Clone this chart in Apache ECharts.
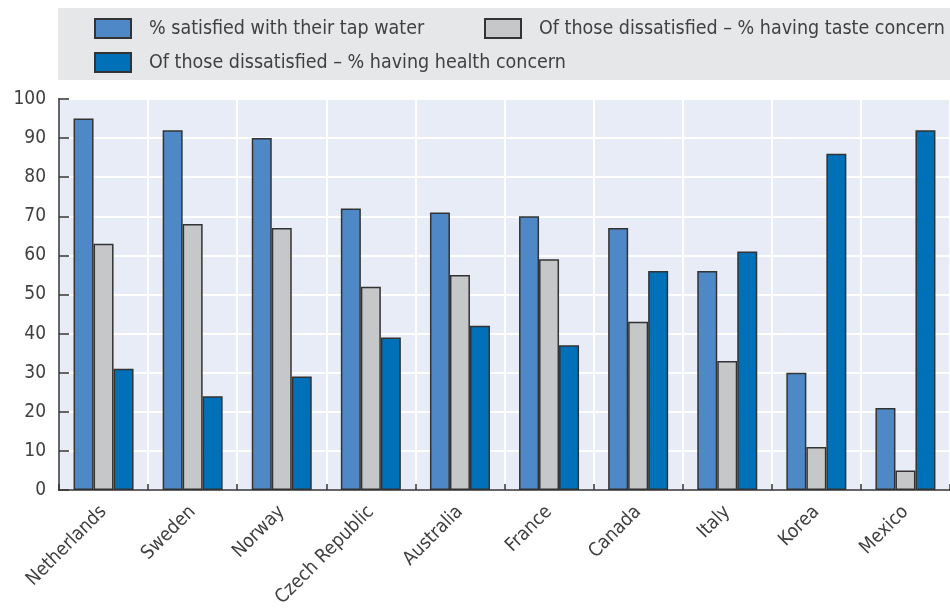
<!DOCTYPE html>
<html>
<head>
<meta charset="utf-8">
<script src="https://cdn.jsdelivr.net/npm/echarts@6/dist/echarts.min.js"></script>
<style>
  html, body { margin: 0; padding: 0; background: #ffffff; }
  #chart { width: 950px; height: 610px; }
</style>
</head>
<body>
<div id="chart"></div>
<script>
// Countries along the horizontal axis
const countries = ['Netherlands', 'Sweden', 'Norway', 'Czech Republic', 'Australia',
                   'France', 'Canada', 'Italy', 'Korea', 'Mexico'];

// Series names
const nameSatisfied = '% satisfied with their tap water';
const nameTaste = 'Of those dissatisfied \u2013 % having taste concern';
const nameHealth = 'Of those dissatisfied \u2013 % having health concern';

// Series values (%)
const satisfied = [95, 92, 90, 72, 71, 70, 67, 56, 30, 21];
const tasteConcern = [63, 68, 67, 52, 55, 59, 43, 33, 11, 5];
const healthConcern = [31, 24, 29, 39, 42, 37, 56, 61, 86, 92];

// Value axis range
const yMin = 0;
const yMax = 100;
const yStep = 10;

const FONT = '"DejaVu Sans Condensed", "Liberation Sans", sans-serif';
const TEXT = '#404040';
const EDGE = '#333333';

const chart = echarts.init(document.getElementById('chart'), null, { renderer: 'canvas' });

function barSeries(name, data, color) {
  return {
    name: name,
    type: 'bar',
    data: data,
    barWidth: 20,
    barGap: '0%',
    itemStyle: { color: color, borderColor: EDGE, borderWidth: 1.5 },
    emphasis: { disabled: true }
  };
}

function legendAt(name, left, top) {
  return {
    data: [name],
    left: left,
    top: top,
    padding: 0,
    icon: 'rect',
    itemWidth: 36,
    itemHeight: 19,
    selectedMode: false,
    textStyle: { fontFamily: FONT, fontSize: 19.5, color: TEXT, padding: [0, 0, 0, 13] }
  };
}

chart.setOption({
  animation: false,
  backgroundColor: '#ffffff',
  graphic: [{
    type: 'rect',
    z: -10,
    shape: { x: 58, y: 8, width: 900, height: 72 },
    style: { fill: '#e6e7e9' }
  }],
  legend: [
    legendAt(nameSatisfied, 94, 18),
    legendAt(nameTaste, 484, 18),
    legendAt(nameHealth, 94, 52)
  ],
  grid: {
    left: 59,
    top: 99,
    bottom: 120,
    right: -14,
    show: true,
    backgroundColor: '#e8ecf6',
    borderColor: EDGE,
    borderWidth: 1.5
  },
  xAxis: {
    type: 'category',
    data: countries,
    boundaryGap: true,
    z: 3,
    axisLine: { show: true, lineStyle: { color: EDGE, width: 1.5 } },
    axisTick: { show: true, inside: true, length: 6, lineStyle: { color: EDGE, width: 1.5 } },
    splitLine: { show: true, lineStyle: { color: '#ffffff', width: 2 } },
    axisLabel: {
      interval: 0,
      rotate: 45,
      margin: 19,
      fontFamily: FONT,
      fontSize: 19,
      color: TEXT
    }
  },
  yAxis: [
    {
      // white horizontal grid lines, kept beneath the ticks and bars
      type: 'value',
      min: yMin,
      max: yMax,
      interval: yStep,
      z: 0,
      axisLine: { show: false },
      axisTick: { show: false },
      axisLabel: { show: false },
      splitLine: { show: true, lineStyle: { color: '#ffffff', width: 2 } }
    },
    {
      // visible axis: line, inward ticks and labels
      type: 'value',
      position: 'left',
      min: yMin,
      max: yMax,
      interval: yStep,
      z: 3,
      axisLine: { show: true, lineStyle: { color: EDGE, width: 1.5 } },
      axisTick: { show: true, inside: true, length: 10, lineStyle: { color: EDGE, width: 1.5 } },
      splitLine: { show: false },
      axisLabel: {
        margin: 13,
        fontFamily: FONT,
        fontSize: 19,
        color: TEXT
      }
    }
  ],
  series: [
    barSeries(nameSatisfied, satisfied, '#4f88c7'),
    barSeries(nameTaste, tasteConcern, '#c6c7c9'),
    barSeries(nameHealth, healthConcern, '#0070b8')
  ]
});
</script>
</body>
</html>
